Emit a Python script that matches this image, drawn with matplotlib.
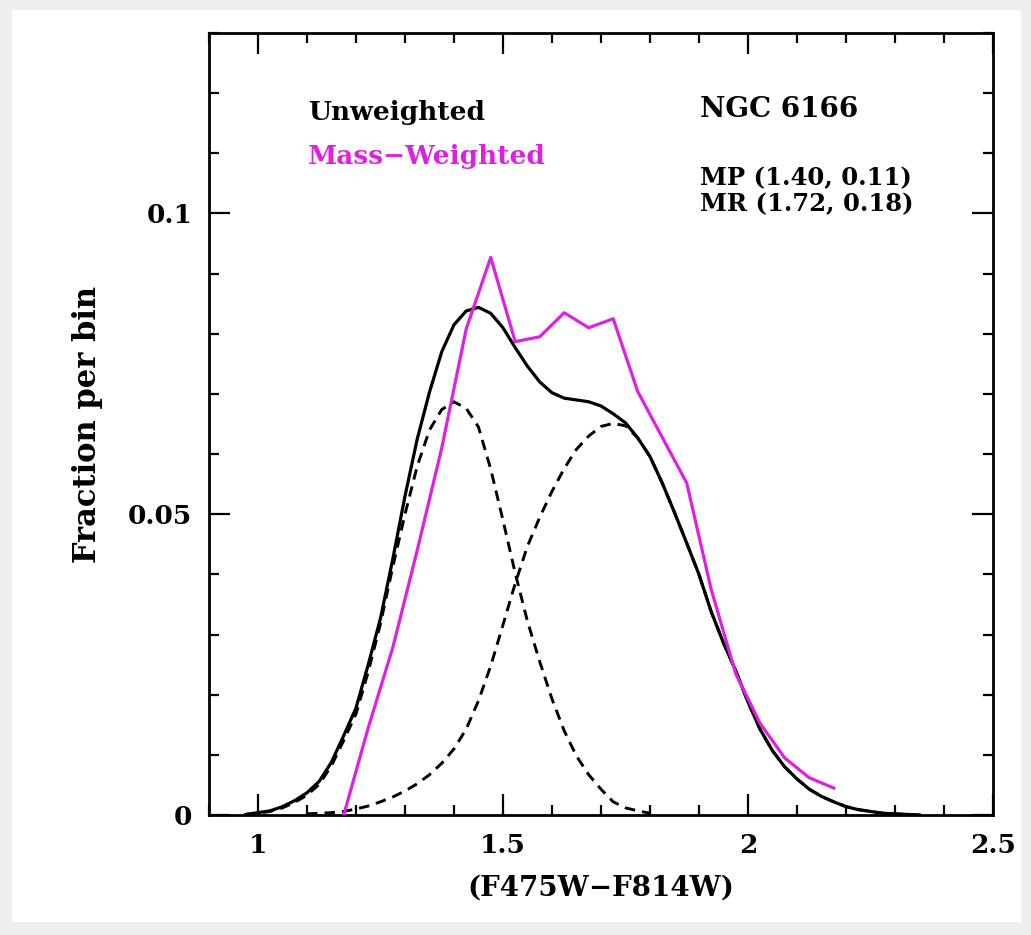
import matplotlib
matplotlib.use("Agg")
import matplotlib.pyplot as plt
from matplotlib.patches import Rectangle
from matplotlib.ticker import MultipleLocator

# smooth unweighted colour distribution
unw_x = [0.975, 1.000, 1.025, 1.050, 1.075, 1.100, 1.125, 1.150, 1.175, 1.200,
         1.225, 1.250, 1.275, 1.300, 1.325, 1.350, 1.375, 1.400, 1.425, 1.450,
         1.475, 1.500, 1.525, 1.550, 1.575, 1.600, 1.625, 1.650, 1.675, 1.700,
         1.725, 1.750, 1.775, 1.800, 1.825, 1.850, 1.875, 1.900, 1.925, 1.950,
         1.975, 2.000, 2.025, 2.050, 2.075, 2.100, 2.125, 2.150, 2.175, 2.200,
         2.225, 2.250, 2.275, 2.300, 2.325, 2.350]
unw_y = [0.0001, 0.0004, 0.0007, 0.0014, 0.0024, 0.0037, 0.0056, 0.0088, 0.0132, 0.0178,
         0.0250, 0.0327, 0.0425, 0.0530, 0.0625, 0.0703, 0.0770, 0.0815, 0.0838, 0.0844,
         0.0834, 0.0810, 0.0777, 0.0746, 0.0720, 0.0702, 0.0693, 0.0690, 0.0687, 0.0680,
         0.0667, 0.0652, 0.0627, 0.0596, 0.0552, 0.0503, 0.0452, 0.0400, 0.0338, 0.0286,
         0.0240, 0.0188, 0.0142, 0.0107, 0.0080, 0.0060, 0.0043, 0.0031, 0.0022, 0.0014,
         0.0009, 0.0006, 0.0003, 0.0002, 0.0001, 0.0000]

# metal-poor component (dashed)
mp_x = [0.975, 1.000, 1.025, 1.050, 1.075, 1.100, 1.125, 1.150, 1.175, 1.200,
        1.225, 1.250, 1.275, 1.300, 1.325, 1.350, 1.375, 1.400, 1.425, 1.450,
        1.475, 1.500, 1.525, 1.550, 1.575, 1.600, 1.625, 1.650, 1.675, 1.700,
        1.725, 1.750, 1.775, 1.800]
mp_y = [0.0001, 0.0003, 0.0006, 0.0012, 0.0021, 0.0033, 0.0051, 0.0082, 0.0124, 0.0168,
        0.0238, 0.0318, 0.0412, 0.0500, 0.0580, 0.0640, 0.0674, 0.0687, 0.0676, 0.0645,
        0.0575, 0.0490, 0.0402, 0.0322, 0.0255, 0.0193, 0.0140, 0.0098, 0.0067, 0.0043,
        0.0022, 0.0012, 0.0007, 0.0003]

# metal-rich component (dashed)
mr_x = [1.100, 1.125, 1.150, 1.175, 1.200, 1.225, 1.250, 1.275, 1.300, 1.325,
        1.350, 1.375, 1.400, 1.425, 1.450, 1.475, 1.500, 1.525, 1.550, 1.575,
        1.600, 1.625, 1.650, 1.675, 1.700, 1.725, 1.750, 1.775, 1.800, 1.825,
        1.850, 1.875, 1.900, 1.925, 1.950, 1.975, 2.000, 2.025, 2.050, 2.075,
        2.100, 2.125, 2.150, 2.175, 2.200, 2.225, 2.250, 2.275, 2.300, 2.325,
        2.350]
mr_y = [0.0002, 0.0003, 0.0004, 0.0006, 0.0010, 0.0015, 0.0022, 0.0030, 0.0040, 0.0052,
        0.0067, 0.0086, 0.0110, 0.0143, 0.0190, 0.0248, 0.0316, 0.0385, 0.0447, 0.0495,
        0.0538, 0.0576, 0.0608, 0.0630, 0.0646, 0.0651, 0.0647, 0.0627, 0.0596, 0.0552,
        0.0503, 0.0452, 0.0400, 0.0338, 0.0286, 0.0240, 0.0188, 0.0142, 0.0107, 0.0080,
        0.0060, 0.0043, 0.0031, 0.0022, 0.0014, 0.0009, 0.0006, 0.0003, 0.0002, 0.0001,
        0.0000]

# mass-weighted histogram (bin centres)
mw_x = [1.175, 1.225, 1.275, 1.325, 1.375, 1.425, 1.475, 1.525, 1.575, 1.625,
        1.675, 1.725, 1.775, 1.825, 1.875, 1.925, 1.975, 2.025, 2.075, 2.125, 2.175]
mw_y = [0.0000, 0.0145, 0.0278, 0.0440, 0.0610, 0.0808, 0.0927, 0.0787, 0.0795, 0.0835,
        0.0810, 0.0825, 0.0704, 0.0628, 0.0552, 0.0375, 0.0235, 0.0152, 0.0095, 0.0062,
        0.0045]

xticks = [1, 1.5, 2, 2.5]
xticklabels = ["1", "1.5", "2", "2.5"]
yticks = [0, 0.05, 0.1]
yticklabels = ["0", "0.05", "0.1"]

magenta = "#e020e0"
font = "DejaVu Serif"

fig = plt.figure(figsize=(10.31, 9.35), dpi=100)
fig.patch.set_facecolor("#efefef")
fig.patches.append(Rectangle((0.0116, 0.0139), 0.979, 0.975, transform=fig.transFigure,
                             facecolor="white", edgecolor="none", zorder=-1))

ax = fig.add_axes([0.2027, 0.1283, 0.7604, 0.8364])
ax.plot(unw_x, unw_y, color="black", lw=2.3, zorder=3)
ax.plot(mp_x, mp_y, color="black", lw=2.1, dashes=(3.6, 2.4), zorder=2)
ax.plot(mr_x, mr_y, color="black", lw=2.1, dashes=(3.6, 2.4), zorder=2)
ax.plot(mw_x, mw_y, color=magenta, lw=2.3, zorder=4)

ax.set_xlim(0.9, 2.5)
ax.set_ylim(0, 0.13)
ax.set_xticks(xticks)
ax.set_xticklabels(xticklabels)
ax.set_yticks(yticks)
ax.set_yticklabels(yticklabels)
ax.xaxis.set_minor_locator(MultipleLocator(0.1))
ax.yaxis.set_minor_locator(MultipleLocator(0.01))
ax.tick_params(which="both", direction="in", top=True, right=True, width=1.6)
ax.tick_params(which="major", length=15)
ax.tick_params(which="minor", length=7.5)
ax.tick_params(axis="x", pad=13)
ax.tick_params(axis="y", pad=12)
for lab in ax.get_xticklabels() + ax.get_yticklabels():
    lab.set_family(font)
    lab.set_fontsize(19)
    lab.set_weight("bold")
for sp in ax.spines.values():
    sp.set_linewidth(2)

ax.set_xlabel("(F475W\u2212F814W)", family=font, fontsize=20, weight="bold", labelpad=12)
ax.set_ylabel("Fraction per bin", family=font, fontsize=22, weight="bold", labelpad=18)

ax.text(1.102, 0.1168, "Unweighted", family=font, fontsize=19, weight="bold",
        ha="left", va="center", color="black")
ax.text(1.102, 0.1095, "Mass\u2212Weighted", family=font, fontsize=19, weight="bold",
        ha="left", va="center", color=magenta)
ax.text(1.902, 0.1173, "NGC 6166", family=font, fontsize=20, weight="bold",
        ha="left", va="center")
ax.text(1.902, 0.1058, "MP (1.40, 0.11)", family=font, fontsize=17.5, weight="bold",
        ha="left", va="center")
ax.text(1.902, 0.1015, "MR (1.72, 0.18)", family=font, fontsize=17.5, weight="bold",
        ha="left", va="center")

fig.savefig("out.png", dpi=100, facecolor=fig.get_facecolor())
